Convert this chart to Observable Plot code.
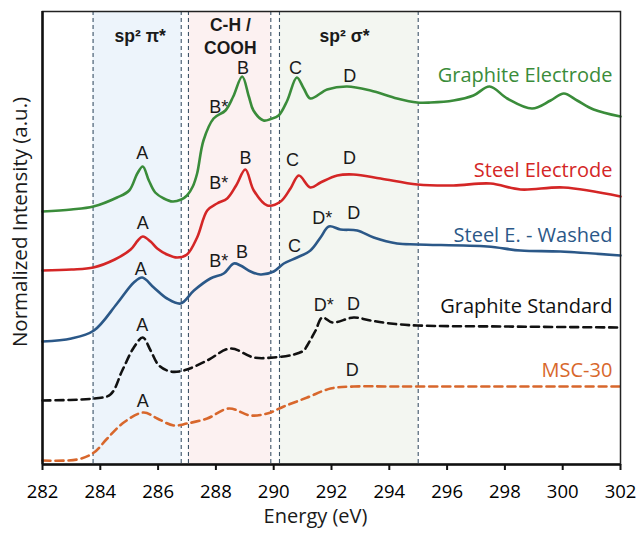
<!DOCTYPE html>
<html>
<head>
<meta charset="utf-8">
<script src="https://cdn.jsdelivr.net/npm/d3@7"></script>
<script src="https://cdn.jsdelivr.net/npm/@observablehq/plot@0.6"></script>
<style>
  html, body { margin: 0; padding: 0; background: #fff; }
</style>
</head>
<body>
<div id="chart"></div>
<script>
// ---- Data ----
const energyTicks = [282, 284, 286, 288, 290, 292, 294, 296, 298, 300, 302];

const graphiteElectrodeE = [282.0, 283.0, 283.76, 284.58, 285.0, 285.28, 285.47, 285.68, 285.9, 286.2, 286.5, 286.8, 287.0, 287.2, 287.35, 287.57, 287.92, 288.33, 288.6, 288.91, 289.14, 289.3, 289.65, 289.9, 290.17, 290.47, 290.8, 291.04, 291.27, 291.85, 292.54, 293.35, 294.27, 294.96, 295.43, 296.22, 296.91, 297.47, 298.08, 298.94, 299.58, 300.04, 300.5, 301.07, 302.0];
const graphiteElectrodeI = [2.53, 2.55, 2.58, 2.67, 2.74, 2.91, 2.98, 2.84, 2.72, 2.66, 2.63, 2.65, 2.69, 2.78, 2.91, 3.24, 3.46, 3.54, 3.68, 3.88, 3.68, 3.54, 3.44, 3.455, 3.49, 3.64, 3.87, 3.76, 3.66, 3.75, 3.78, 3.74, 3.66, 3.62, 3.62, 3.64, 3.69, 3.78, 3.66, 3.56, 3.64, 3.71, 3.64, 3.55, 3.48];

const steelElectrodeE = [282.0, 283.0, 283.76, 284.5, 285.05, 285.3, 285.47, 285.74, 285.97, 286.31, 286.66, 287.0, 287.35, 287.7, 288.04, 288.39, 288.7, 289.02, 289.31, 289.78, 290.24, 290.58, 290.87, 291.27, 291.62, 292.2, 292.76, 293.7, 294.97, 296.22, 297.5, 298.54, 300.03, 302.0];
const steelElectrodeI = [1.94, 1.95, 1.97, 2.05, 2.15, 2.24, 2.28, 2.23, 2.16, 2.10, 2.07, 2.10, 2.27, 2.54, 2.61, 2.66, 2.79, 2.95, 2.74, 2.59, 2.63, 2.76, 2.89, 2.77, 2.82, 2.89, 2.90, 2.86, 2.80, 2.79, 2.81, 2.75, 2.77, 2.68];

const steelWashedE = [282.0, 283.0, 283.78, 284.58, 285.16, 285.45, 285.85, 286.31, 286.78, 287.24, 287.81, 288.27, 288.62, 288.85, 289.2, 289.54, 290.0, 290.35, 290.81, 291.27, 291.62, 291.91, 292.31, 292.89, 293.46, 294.27, 294.97, 297.39, 298.54, 299.92, 302.0];
const steelWashedI = [1.23, 1.26, 1.34, 1.61, 1.82, 1.87, 1.77, 1.66, 1.61, 1.74, 1.86, 1.91, 2.01, 1.99, 1.93, 1.90, 1.93, 2.01, 2.07, 2.14, 2.27, 2.38, 2.35, 2.34, 2.27, 2.21, 2.20, 2.18, 2.14, 2.13, 2.09];

const graphiteStandardE = [282.0, 283.78, 284.35, 284.76, 285.16, 285.47, 285.74, 286.03, 286.43, 286.89, 287.7, 288.5, 289.31, 290.0, 290.7, 291.04, 291.16, 291.45, 291.68, 292.03, 292.77, 293.35, 294.04, 294.97, 298.0, 302.0];
const graphiteStandardI = [0.64, 0.66, 0.70, 0.94, 1.17, 1.27, 1.14, 0.99, 0.93, 0.94, 1.04, 1.16, 1.07, 1.07, 1.10, 1.14, 1.19, 1.34, 1.47, 1.42, 1.47, 1.44, 1.41, 1.39, 1.38, 1.37];

const msc30E = [282.0, 283.2, 283.78, 284.24, 284.81, 285.5, 285.97, 286.54, 287.0, 287.7, 288.45, 289.2, 289.78, 290.35, 291.16, 291.97, 292.77, 294.27, 302.0];
const msc30I = [0.04, 0.05, 0.12, 0.26, 0.42, 0.52, 0.46, 0.39, 0.41, 0.46, 0.56, 0.49, 0.51, 0.58, 0.67, 0.76, 0.78, 0.78, 0.78];

const seriesNames = ["Graphite Electrode", "Steel Electrode", "Steel E. - Washed", "Graphite Standard", "MSC-30"];
const seriesColors = ["#3a8c3a", "#d42626", "#2b5888", "#111111", "#d8672c"];
const seriesDashed = [false, false, false, true, true];
const seriesLabelY = [3.89, 2.94, 2.29, 1.58, 0.94];

// Region bands
const regionNames = ["sp\u00B2 \u03C0*", "C-H /\nCOOH", "sp\u00B2 \u03C3*"];
const regionStart = [283.75, 287.05, 290.2];
const regionEnd = [286.8, 289.9, 295.0];
const regionFills = ["#edf4fb", "#fcf1f1", "#f3f6f1"];
const regionLabelX = [285.38, 288.5, 292.45];
const regionLabelY = [4.30, 4.29, 4.30];
const boundaries = [283.75, 286.8, 287.05, 289.9, 290.2, 295.0];

// Peak letters
const peakText = ["A", "B*", "B", "C", "D",  "A", "B*", "B", "C", "D",  "A", "B*", "B", "C", "D*", "D",  "A", "D*", "D",  "A", "D"];
const peakE = [285.45, 288.1, 288.94, 290.75, 292.63,  285.47, 288.1, 289.02, 290.65, 292.62,  285.4, 288.1, 288.9, 290.72, 291.68, 292.77,  285.45, 291.73, 292.76,  285.47, 292.72];
const peakI = [3.11, 3.57, 3.96, 3.96, 3.88,  2.41, 2.81, 3.06, 3.04, 3.06,  1.95, 2.03, 2.12, 2.18, 2.46, 2.51,  1.39, 1.59, 1.60,  0.63, 0.94];

// ---- Build tables ----
const seriesData = [
  [graphiteElectrodeE, graphiteElectrodeI],
  [steelElectrodeE, steelElectrodeI],
  [steelWashedE, steelWashedI],
  [graphiteStandardE, graphiteStandardI],
  [msc30E, msc30I]
];
const regions = regionNames.map((n, i) => ({name: n, x1: regionStart[i], x2: regionEnd[i], fill: regionFills[i], lx: regionLabelX[i], ly: regionLabelY[i]}));
const peaks = peakText.map((t, i) => ({t, e: peakE[i], v: peakI[i]}));
const names = seriesNames.map((n, i) => ({n, c: seriesColors[i], v: seriesLabelY[i]}));

const lineMarks = seriesData.map(([E, I], k) => Plot.line(
  E.map((e, i) => ({e, v: I[i]})),
  {x: "e", y: "v", stroke: seriesColors[k], strokeWidth: 2.6, curve: "catmull-rom",
   strokeDasharray: seriesDashed[k] ? "8,5" : null}
));

const arial = "'Liberation Sans', Arial, sans-serif";

const chart = Plot.plot({
  width: 640,
  height: 535,
  marginLeft: 42,
  marginRight: 20,
  marginTop: 11,
  marginBottom: 71,
  style: {fontFamily: "'Open Sans', sans-serif", background: "#fff", overflow: "visible"},
  x: {domain: [282, 302]},
  y: {domain: [0, 4.53], axis: null},
  marks: [
    Plot.rect(regions, {x1: "x1", x2: "x2", fill: "fill"}),
    Plot.ruleX(boundaries, {stroke: "#3e5468", strokeWidth: 1.1, strokeDasharray: "4,3"}),
    ...lineMarks,
    Plot.text(peaks, {x: "e", y: "v", text: "t", fontSize: 18, fontFamily: arial, fill: "#1a1a1a"}),
    Plot.text(names, {x: 301.72, y: "v", text: "n", fill: "c", fontSize: 20, textAnchor: "end"}),
    Plot.text(regions, {x: "lx", y: "ly", text: "name", fontSize: 17.5, fontFamily: arial, fontWeight: "bold", fill: "#1a1a1a", lineHeight: 1.3}),
    Plot.frame({stroke: "#222", strokeWidth: 1.5}),
    Plot.ruleX([282], {stroke: "#111", strokeWidth: 2.5}),
    Plot.ruleY([0], {stroke: "#111", strokeWidth: 2.5}),
    Plot.axisX({ticks: energyTicks, tickFormat: d => String(d), tickSize: 6, tickPadding: 14, fontSize: 18.5, label: null, stroke: "#111", strokeWidth: 2}),
    Plot.text(["Energy (eV)"], {frameAnchor: "bottom", text: d => d, dy: 58, dx: -16, fontSize: 20, fill: "#1a1a1a"}),
    Plot.text(["Normalized Intensity (a.u.)"], {frameAnchor: "left", textAnchor: "middle", text: d => d, rotate: -90, dx: -22, dy: -16, fontSize: 20.5, fill: "#1a1a1a"})
  ]
});
document.getElementById("chart").appendChild(chart);
</script>
</body>
</html>
